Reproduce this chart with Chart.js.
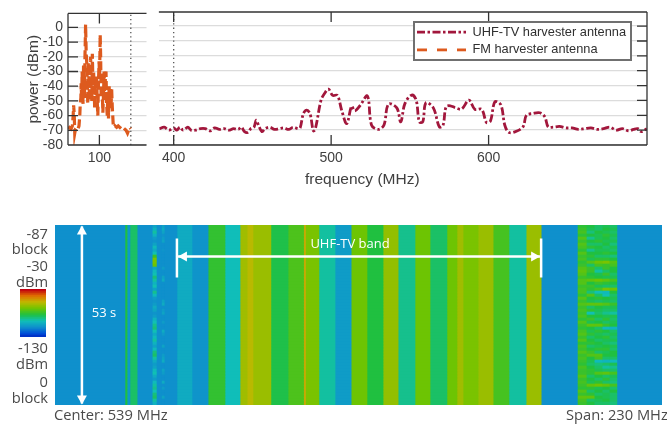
<!DOCTYPE html>
<html>
<head>
<meta charset="utf-8">
<script src="https://cdn.jsdelivr.net/npm/chart.js@4"></script>
<style>
  html, body { margin: 0; padding: 0; background: #fff; width: 667px; height: 424px; overflow: hidden; }
  canvas { position: absolute; display: block; filter: blur(0.4px); }
  .lbl { position: absolute; font: 14.7px "Open Sans", sans-serif; color: #4a4a4a; white-space: nowrap; line-height: 16px; filter: blur(0.3px); }
  .side { right: 619px; text-align: right; }
  #legendBox { position: absolute; left: 413px; top: 21px; width: 215px; height: 36px; border: 2px solid #707070; background: #fff; overflow: hidden; }
</style>
</head>
<body>
<canvas id="fmChart" style="left:0;top:0" width="147" height="185"></canvas>
<canvas id="uhfChart" style="left:157px;top:0" width="510" height="185"></canvas>
<div id="legendBox"><canvas id="legendChart" style="left:-3px;top:-4px" width="219" height="44"></canvas></div>
<canvas id="waterfall" style="left:55px;top:225px" width="607" height="180"></canvas>
<canvas id="colorbar" style="left:20px;top:289px" width="26" height="48"></canvas>

<div class="lbl" style="left:305px;top:170px;font:15.5px 'Liberation Sans';color:#404040">frequency (MHz)</div>
<div class="lbl side" style="top:225px">-87</div>
<div class="lbl side" style="top:240px">block</div>
<div class="lbl side" style="top:257px">-30</div>
<div class="lbl side" style="top:273px">dBm</div>
<div class="lbl side" style="top:339px">-130</div>
<div class="lbl side" style="top:355px">dBm</div>
<div class="lbl side" style="top:373px">0</div>
<div class="lbl side" style="top:389px">block</div>
<div class="lbl" style="left:54px;top:406px">Center: 539 MHz</div>
<div class="lbl" style="left:566px;top:406px">Span: 230 MHz</div>

<script>
// top panels
const fmFreq = [80, 81, 82, 82.8, 83.3, 83.6, 84, 84.3, 84.8, 85.6, 86.4, 87, 87.5, 87.8, 88.2, 88.4, 88.7, 89, 89.3, 89.6, 89.9, 90.2, 90.5, 90.8, 91, 91.2, 91.4, 91.6, 92, 92.3, 92.6, 92.9, 93.3, 93.7, 94, 94.4, 94.8, 95.2, 95.5, 95.9, 96.3, 96.7, 97, 97.4, 97.8, 98.2, 98.6, 99, 99.4, 99.8, 100.1, 100.5, 100.8, 101.1, 101.4, 101.8, 102.2, 102.6, 103, 103.4, 103.8, 104.2, 104.6, 105, 105.4, 105.8, 106.2, 106.6, 107, 107.4, 107.8, 108.2, 108.8, 109.4, 110, 111, 112, 113, 114, 115, 116, 117, 117.9, 118.6, 119.3, 120]
const fmPower = [-69, -68, -69, -67, -60, -53, -60, -72, -69, -68, -69, -67, -60, -52, -48, -38, -50, -30, -44, -52, -26, -38, -48, -20, -10, 2, -8, -18, -25, -40, -52, -24, -35, -50, -28, -20, -42, -50, -18, -40, -30, -44, -55, -35, -46, -32, -50, -60, -38, -23, -35, -5, -20, -48, -30, -42, -58, -46, -30, -48, -35, -30, -52, -60, -44, -62, -40, -50, -42, -55, -42, -54, -66, -68, -67, -68, -67, -68, -69, -68, -69, -70, -72, -70, -68, -69]

const uhfFreq = [391, 394, 397, 400, 402, 404, 406, 409, 411, 414, 417, 420, 423, 426, 429, 432, 435, 438, 441, 443, 445, 447, 449, 451, 452.4, 454, 456, 458, 461, 464, 467, 470, 473, 476, 479, 480.3, 482.4, 484.5, 486.6, 488.7, 490, 493.6, 496, 498.3, 501, 504, 506.7, 509.9, 513, 515, 518.3, 523, 525.7, 530, 533.5, 536.4, 541.7, 544.2, 546.9, 551.2, 554, 556, 558.2, 560.2, 564.9, 568.7, 571, 573, 575.7, 579, 582.9, 587.5, 591.3, 595.6, 598.7, 601.2, 604, 607.8, 610.3, 613, 618, 622, 624, 628, 632.5, 635.7, 637.8, 641, 645, 649, 653, 657, 661, 665, 669, 673, 677, 681, 685, 689, 692, 694.7, 697, 700.5]
const uhfPower = [-69, -68, -70, -68.5, -70, -68, -70, -68, -70, -70, -69, -69, -70.5, -68.5, -69.5, -69, -70, -69, -69.5, -68, -71, -71.5, -69, -68, -63.3, -67, -71, -69, -68, -69.5, -69, -68.5, -69.5, -68, -69, -68.5, -58.8, -56.5, -59, -70.5, -69, -49.8, -45, -42.4, -46.6, -46.6, -56.7, -65.6, -53.9, -57, -53.6, -47, -66.7, -69.5, -66.7, -52.5, -55, -64.4, -52, -46.4, -49.8, -64.4, -64.4, -51.6, -55, -67.8, -67, -54.3, -53.6, -55, -55.8, -49.8, -56, -56, -64.9, -63.8, -50.9, -53, -66.7, -71.6, -70.6, -67.5, -60, -58.8, -58.3, -61, -67.8, -68, -67.5, -68.5, -68.5, -69.5, -69, -68.5, -69.5, -69, -68, -70, -69, -70.5, -69.5, -69, -71, -69, -68.5]

const fmBreak = 120
const uhfBreak = 400
const powerTicks = [-80, -70, -60, -50, -40, -30, -20, -10, 0]
const fmTicks = [100]
const uhfTicks = [400, 500, 600]
const seriesLabels = ['UHF-TV harvester antenna', 'FM harvester antenna']

// waterfall, frequency in MHz and level in dBm
const bandEdges = [424, 450.5, 451.3, 452.4, 455.1, 470.2, 475.9, 482, 488.4, 494.1, 496.8, 499, 505.8, 512.3, 518.2, 518.9, 524, 530.1, 536.2, 542.2, 548.3, 554, 560.4, 566.1, 572.5, 576.3, 578.6, 584.3, 590, 596, 602.5, 608.2, 654]
const bandLevels = [-105, -80, -103, -84, -105, -98, -104, -77, -93, -60, -56, -61, -81, -73, -52, -66, -90, -102, -68, -80, -62, -88, -68, -84, -68, -60, -66, -61, -74, -90, -61, -105]

const fmEdges = [622.2, 625.3, 628.3, 631.3, 634, 636.9]
const fmRows = [
  [-78, -80, -84, -82, -84], [-76, -82, -84, -80, -82], [-74, -86, -80, -82, -84], [-78, -80, -82, -78, -82],
  [-72, -88, -82, -80, -84], [-76, -80, -78, -82, -82], [-72, -84, -84, -80, -86], [-74, -78, -80, -84, -82],
  [-78, -88, -82, -82, -84], [-72, -80, -80, -78, -80], [-76, -78, -84, -84, -86], [-74, -82, -78, -78, -80],
  [-78, -72, -68, -66, -72], [-76, -84, -74, -76, -74], [-72, -76, -84, -76, -80], [-70, -76, -90, -84, -80],
  [-72, -80, -82, -76, -84], [-76, -78, -80, -82, -82], [-72, -70, -68, -70, -74], [-72, -80, -76, -78, -80],
  [-76, -76, -82, -84, -84], [-74, -78, -74, -66, -68], [-74, -86, -92, -94, -80], [-78, -72, -84, -92, -84],
  [-72, -80, -78, -80, -82], [-76, -82, -84, -82, -84], [-72, -70, -70, -72, -76], [-76, -84, -80, -82, -82],
  [-74, -78, -82, -84, -84], [-76, -92, -84, -88, -90], [-74, -80, -80, -82, -82], [-78, -76, -84, -78, -84],
  [-72, -82, -80, -84, -82], [-76, -70, -70, -76, -80], [-78, -80, -84, -94, -96], [-74, -82, -78, -80, -84],
  [-72, -78, -82, -84, -82], [-76, -84, -80, -78, -84], [-72, -80, -84, -82, -82], [-78, -78, -80, -84, -86],
  [-74, -84, -82, -80, -82], [-76, -80, -78, -78, -84], [-72, -76, -84, -82, -80], [-76, -72, -72, -80, -80],
  [-74, -80, -74, -84, -84], [-76, -82, -94, -96, -94], [-78, -84, -86, -84, -82], [-74, -80, -84, -90, -88],
  [-76, -78, -82, -84, -84], [-76, -78, -72, -70, -74], [-72, -84, -80, -84, -82], [-76, -80, -84, -78, -84],
  [-74, -82, -78, -84, -86], [-76, -70, -68, -70, -74], [-78, -78, -82, -80, -84], [-72, -84, -80, -84, -80],
  [-76, -78, -84, -82, -84], [-70, -70, -80, -82, -84], [-74, -84, -82, -80, -84], [-76, -80, -84, -84, -86]
]

const lineFreqs = [[461.1, 462.4], [464.6, 465.4]]
const lineRows = [
  [-100, -96, -90, -96, -102, -104, -100, -94, -98, -92, -76, -66, -66, -68, -100, -94, -92, -86, -90, -96, -92, -100, -88, -94, -102, -104, -102, -98, -100, -104, -102, -96, -92, -88, -86, -92, -98, -94, -90, -96, -100, -94, -86, -84, -90, -98, -102, -100, -94, -92, -98, -102, -94, -90, -88, -92, -86, -84, -90, -96],
  [-100, -98, -100, -104, -102, -100, -105, -105, -104, -105, -105, -105, -105, -105, -102, -105, -105, -100, -98, -105, -105, -105, -105, -105, -105, -100, -98, -105, -102, -100, -105, -105, -102, -105, -105, -98, -102, -105, -105, -105, -100, -105, -105, -102, -100, -98, -105, -105, -100, -102, -105, -105, -98, -105, -102, -105, -105, -100, -105, -105]
]

const colorbarLevels = [-30, -34, -38, -42, -46, -50, -54, -58, -62, -66, -70, -74, -78, -82, -86, -90, -94, -98, -102, -106, -110, -114, -118, -122]
const waterfallRows = Array.from(fmRows.keys())

// colormap stops, evenly spaced from -130 to -30 dBm
const palette = ['#0000a8', '#0050d8', '#0f90cc', '#10c0b8', '#20c040', '#70c400', '#c0b800', '#e07000', '#c00010']
function levelColor(level) {
  const t = Math.min(0.9999, Math.max(0, (level + 130) / 100)) * (palette.length - 1)
  const i = Math.floor(t), f = t - i
  const rgb = [1, 3, 5].map(k => {
    const a = parseInt(palette[i].substr(k, 2), 16), b = parseInt(palette[i + 1].substr(k, 2), 16)
    return Math.round(a + (b - a) * f)
  })
  return `rgb(${rgb.join(',')})`
}

const uhfColor = '#a2173c'
const fmColor = '#dd5a1e'
const uhfDash = [8, 2.5, 2.5, 2.5]
const fmDash = [9, 4]
const axisFont = { family: '"Liberation Sans"', size: 14 }

// matlab style frame: inward ticks, open on the side of the axis break
const framePlugin = {
  id: 'frame',
  afterDraw(chart, args, opts) {
    const { ctx, chartArea: a, scales } = chart
    ctx.save()
    ctx.strokeStyle = '#333'
    ctx.lineWidth = 1.3
    ctx.beginPath()
    ctx.moveTo(a.left, a.top); ctx.lineTo(a.right, a.top)
    ctx.moveTo(a.left, a.bottom); ctx.lineTo(a.right, a.bottom)
    const sideX = opts.side == 'left' ? a.left : a.right
    const dir = opts.side == 'left' ? 1 : -1
    ctx.moveTo(sideX, a.top); ctx.lineTo(sideX, a.bottom)
    scales.y.ticks.forEach(t => {
      const y = scales.y.getPixelForValue(t.value)
      ctx.moveTo(sideX, y); ctx.lineTo(sideX + dir * 10, y)
    })
    scales.x.ticks.forEach(t => {
      const x = scales.x.getPixelForValue(t.value)
      ctx.moveTo(x, a.top); ctx.lineTo(x, a.top + 10)
      ctx.moveTo(x, a.bottom); ctx.lineTo(x, a.bottom - 10)
    })
    ctx.stroke()
    ctx.restore()
  }
}

function panelOptions(xMin, xMax, xTicks, side) {
  return {
    responsive: false,
    animation: false,
    layout: { autoPadding: false, padding: { top: 12, right: side == 'right' ? 20 : 0.5 } },
    elements: { point: { radius: 0 }, line: { tension: 0 } },
    plugins: { legend: { display: false }, tooltip: { enabled: false }, frame: { side } },
    scales: {
      x: {
        type: 'linear', min: xMin, max: xMax,
        afterBuildTicks: s => { s.ticks = xTicks.map(value => ({ value })) },
        afterFit: s => { s.height = 40 },
        grid: { display: false, drawTicks: false },
        border: { display: false },
        ticks: { font: axisFont, color: '#404040', padding: 5, maxRotation: 0, autoSkip: false }
      },
      y: {
        min: -80, max: 9.5,
        afterBuildTicks: s => { s.ticks = powerTicks.map(value => ({ value })) },
        afterFit: s => { s.width = side == 'left' ? 68 : 0 },
        grid: { color: '#dcdcdc', lineWidth: 1.3, drawTicks: false },
        border: { display: false },
        title: { display: side == 'left', text: 'power (dBm)', font: { family: '"Liberation Sans"', size: 15.5 }, color: '#404040', padding: { top: 24, bottom: 0 } },
        ticks: { display: side == 'left', font: axisFont, color: '#404040', padding: 5, autoSkip: false }
      }
    }
  }
}

function breakLine(freq) {
  return {
    data: [{ x: freq, y: -80 }, { x: freq, y: 9.5 }],
    borderColor: '#555', borderWidth: 1.3, borderDash: [1.3, 3]
  }
}

function points(xs, ys) {
  return xs.map((x, i) => ({ x, y: ys[i] }))
}

new Chart(document.getElementById('fmChart'), {
  type: 'line',
  data: {
    datasets: [
      breakLine(fmBreak),
      { label: seriesLabels[1], data: points(fmFreq, fmPower), borderColor: fmColor, borderWidth: 3.2, borderDash: fmDash }
    ]
  },
  options: panelOptions(80, 130, fmTicks, 'left'),
  plugins: [framePlugin]
})

new Chart(document.getElementById('uhfChart'), {
  type: 'line',
  data: {
    datasets: [
      breakLine(uhfBreak),
      { label: seriesLabels[0], data: points(uhfFreq, uhfPower), borderColor: uhfColor, borderWidth: 2.8, borderDash: uhfDash, tension: 0.35 }
    ]
  },
  options: panelOptions(390.6, 700.6, uhfTicks, 'right'),
  plugins: [framePlugin]
})

const legendStyles = [
  { strokeStyle: uhfColor, lineDash: uhfDash },
  { strokeStyle: fmColor, lineDash: [10, 10] }
]

new Chart(document.getElementById('legendChart'), {
  type: 'line',
  data: { datasets: seriesLabels.map(label => ({ label, data: [] })) },
  options: {
    responsive: false,
    animation: false,
    scales: { x: { display: false }, y: { display: false } },
    plugins: {
      tooltip: { enabled: false },
      legend: {
        position: 'left', align: 'center', maxWidth: 219,
        labels: {
          usePointStyle: true, pointStyleWidth: 49,
          boxHeight: 13, padding: 5, color: '#303030',
          font: { family: '"Liberation Sans"', size: 12.8 },
          generateLabels: () => seriesLabels.map((text, i) => ({
            text, datasetIndex: i, pointStyle: 'line', lineWidth: 2.8, fillStyle: legendStyles[i].strokeStyle,
            fontColor: '#303030', ...legendStyles[i]
          }))
        }
      }
    }
  }
})

// one floating bar per row for every band, so single rows can differ
function bandDataset(f0, f1, colors) {
  return {
    data: waterfallRows.map(() => [f0, f1]),
    backgroundColor: colors,
    barPercentage: 1, categoryPercentage: 1, grouped: false,
    borderSkipped: false
  }
}

// first dataset is painted last, so the row-by-row columns go in front
const waterfallDatasets = []
lineFreqs.forEach((f, i) => {
  waterfallDatasets.push(bandDataset(f[0], f[1], lineRows[i].map(levelColor)))
})
fmEdges.slice(0, -1).forEach((f0, col) => {
  waterfallDatasets.push(bandDataset(f0, fmEdges[col + 1], fmRows.map(r => levelColor(r[col]))))
})
bandLevels.forEach((level, i) => {
  waterfallDatasets.push(bandDataset(bandEdges[i], bandEdges[i + 1], levelColor(level)))
})

const bandArrow = { from: 470.2, to: 608.2, row: 10, barFrom: 4, barTo: 17 }
const timeArrow = { freq: 434.2, firstRow: 0, lastRow: 59 }

function arrowHead(ctx, x, y, dx, dy) {
  ctx.beginPath()
  ctx.moveTo(x, y)
  ctx.lineTo(x - dx * 9 - dy * 5, y - dy * 9 - dx * 5)
  ctx.lineTo(x - dx * 9 + dy * 5, y - dy * 9 + dx * 5)
  ctx.closePath()
  ctx.fill()
}

const annotatePlugin = {
  id: 'annotate',
  afterDraw(chart) {
    const { ctx, scales: { x, y } } = chart
    ctx.save()
    ctx.strokeStyle = ctx.fillStyle = '#fff'
    ctx.lineWidth = 2.5
    const x0 = x.getPixelForValue(bandArrow.from), x1 = x.getPixelForValue(bandArrow.to)
    const yB = y.getPixelForValue(bandArrow.row)
    ctx.beginPath()
    ctx.moveTo(x0, yB); ctx.lineTo(x1, yB)
    ;[x0, x1].forEach(px => {
      ctx.moveTo(px, y.getPixelForValue(bandArrow.barFrom)); ctx.lineTo(px, y.getPixelForValue(bandArrow.barTo))
    })
    const xT = x.getPixelForValue(timeArrow.freq)
    const yT0 = y.getPixelForValue(timeArrow.firstRow), yT1 = y.getPixelForValue(timeArrow.lastRow)
    ctx.moveTo(xT, yT0); ctx.lineTo(xT, yT1)
    ctx.stroke()
    arrowHead(ctx, x0 + 1, yB, -1, 0)
    arrowHead(ctx, x1 - 1, yB, 1, 0)
    arrowHead(ctx, xT, yT0 - 1, 0, -1)
    arrowHead(ctx, xT, yT1 + 1, 0, 1)
    ctx.font = '13px "Open Sans"'
    ctx.textAlign = 'center'
    ctx.textBaseline = 'middle'
    ctx.fillText('UHF-TV band', x.getPixelForValue(535.8), y.getPixelForValue(6))
    ctx.fillText('53 s', x.getPixelForValue(442.6), y.getPixelForValue(29))
    ctx.restore()
  }
}

new Chart(document.getElementById('waterfall'), {
  type: 'bar',
  data: { labels: waterfallRows, datasets: waterfallDatasets },
  options: {
    indexAxis: 'y',
    responsive: false,
    animation: false,
    plugins: { legend: { display: false }, tooltip: { enabled: false } },
    scales: {
      x: { type: 'linear', min: 424, max: 654, display: false },
      y: { display: false }
    }
  },
  plugins: [annotatePlugin]
})

new Chart(document.getElementById('colorbar'), {
  type: 'bar',
  data: {
    labels: colorbarLevels,
    datasets: [{
      data: colorbarLevels.map(() => 1),
      backgroundColor: colorbarLevels.map(levelColor),
      barPercentage: 1, categoryPercentage: 1
    }]
  },
  options: {
    indexAxis: 'y',
    responsive: false,
    animation: false,
    plugins: { legend: { display: false }, tooltip: { enabled: false } },
    scales: { x: { min: 0, max: 1, display: false }, y: { display: false } }
  }
})
</script>
</body>
</html>
